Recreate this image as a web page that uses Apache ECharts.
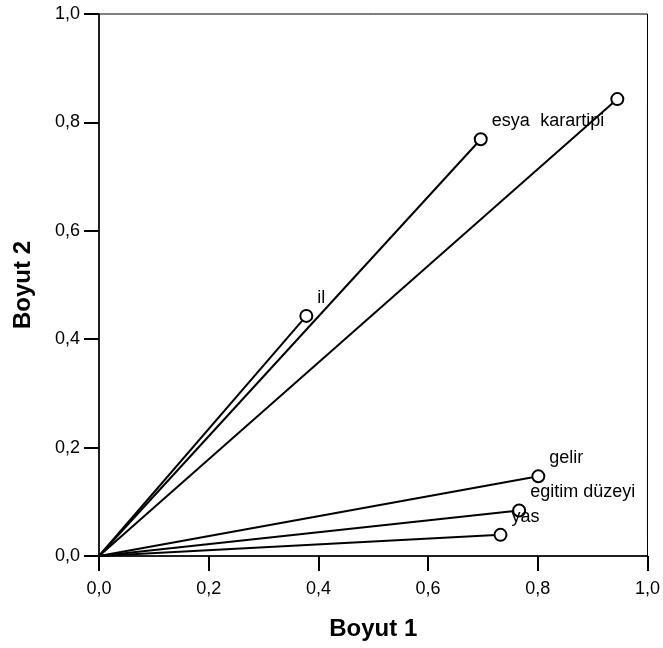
<!DOCTYPE html>
<html>
<head>
<meta charset="utf-8">
<script src="https://cdn.jsdelivr.net/npm/echarts@6/dist/echarts.min.js"></script>
<style>html,body{margin:0;padding:0;background:#fff}#c{width:663px;height:648px}</style>
</head>
<body>
<div id="c"></div>
<script>
const names = ['esya', 'karartipi', 'il', 'gelir', 'egitim düzeyi', 'yas'];
const dim1 = [0.696, 0.945, 0.378, 0.801, 0.766, 0.732];
const dim2 = [0.769, 0.843, 0.443, 0.147, 0.084, 0.039];
const tickLabels = ['0,0', '0,2', '0,4', '0,6', '0,8', '1,0'];

const labelOffsets = {
  'karartipi': [-88, 22]
};
const font = '"Liberation Sans", Arial, sans-serif';

const series = names.map((n, i) => ({
  type: 'line',
  name: n,
  data: [
    { value: [0, 0], symbol: 'none' },
    {
      value: [dim1[i], dim2[i]],
      name: n,
      symbol: 'circle',
      label: {
        show: true,
        formatter: n,
        position: 'right',
        distance: 4,
        offset: labelOffsets[n] || [0, -18],
        color: '#000',
        fontSize: 18,
        fontFamily: font
      }
    }
  ],
  symbolSize: 12,
  showAllSymbol: true,
  lineStyle: { color: '#000', width: 2 },
  itemStyle: { color: '#fff', borderColor: '#000', borderWidth: 2 },
  emphasis: { disabled: true },
  animation: false,
  z: 3
}));

const chart = echarts.init(document.getElementById('c'), null, { renderer: 'canvas' });
chart.setOption({
  animation: false,
  backgroundColor: '#fff',
  grid: { left: 99, right: 15, top: 14, bottom: 92, show: true, borderColor: '#000', borderWidth: 1, backgroundColor: 'transparent' },
  xAxis: {
    type: 'value', min: 0, max: 1, interval: 0.2,
    name: 'Boyut 1', nameLocation: 'middle', nameGap: 61,
    nameTextStyle: { fontSize: 24, fontWeight: 'bold', color: '#000', fontFamily: font },
    axisLine: { show: true, lineStyle: { color: '#000', width: 1.5 } },
    axisTick: { show: true, length: 15, lineStyle: { color: '#000', width: 2 } },
    axisLabel: { fontSize: 18, color: '#000', fontFamily: font, margin: 24,
      formatter: (v) => tickLabels[Math.round(v / 0.2)] },
    splitLine: { show: false }
  },
  yAxis: {
    type: 'value', min: 0, max: 1, interval: 0.2,
    name: 'Boyut 2', nameLocation: 'middle', nameGap: 64, nameRotate: 90,
    nameTextStyle: { fontSize: 24, fontWeight: 'bold', color: '#000', fontFamily: font },
    axisLine: { show: true, lineStyle: { color: '#000', width: 1.5 } },
    axisTick: { show: true, length: 15, lineStyle: { color: '#000', width: 2 } },
    axisLabel: { fontSize: 18, color: '#000', fontFamily: font, margin: 19,
      formatter: (v) => tickLabels[Math.round(v / 0.2)] },
    splitLine: { show: false }
  },
  series: series
});
</script>
</body>
</html>
